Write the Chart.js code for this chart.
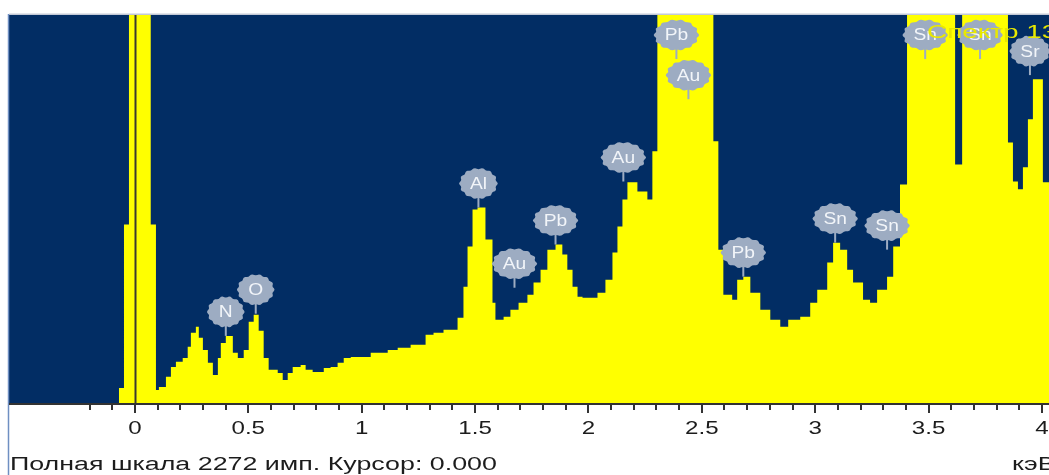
<!DOCTYPE html>
<html>
<head>
<meta charset="utf-8">
<script src="https://cdn.jsdelivr.net/npm/chart.js@4/dist/chart.umd.min.js"></script>
<style>
  html, body { margin: 0; padding: 0; background: #ffffff; overflow: hidden; }
  canvas { display: block; }
</style>
</head>
<body>
<canvas id="spectrum" width="1049" height="475"></canvas>
<script>
// EDS spectrum: channel start energy (keV) and counts held until the next channel
const energies = [-0.555, -0.070, -0.048, -0.026, 0.070, 0.093, 0.106, 0.137, 0.159, 0.181,
  0.211, 0.233, 0.247, 0.269, 0.282, 0.300, 0.322, 0.344, 0.366, 0.379,
  0.401, 0.432, 0.454, 0.480, 0.502, 0.524, 0.546, 0.568, 0.590, 0.630,
  0.652, 0.674, 0.696, 0.731, 0.753, 0.784, 0.833, 0.863, 0.894, 0.921,
  0.952, 1.040, 1.115, 1.159, 1.216, 1.282, 1.317, 1.361, 1.423, 1.449,
  1.467, 1.489, 1.511, 1.546, 1.577, 1.590, 1.626, 1.656, 1.692, 1.731,
  1.758, 1.789, 1.819, 1.855, 1.885, 1.907, 1.930, 1.952, 1.974, 2.040,
  2.075, 2.106, 2.128, 2.150, 2.172, 2.216, 2.260, 2.282, 2.304, 2.551,
  2.573, 2.595, 2.634, 2.656, 2.683, 2.714, 2.758, 2.802, 2.846, 2.881,
  2.934, 2.978, 3.009, 3.053, 3.079, 3.110, 3.141, 3.167, 3.211, 3.242,
  3.273, 3.317, 3.344, 3.374, 3.405, 3.617, 3.648, 3.850, 3.872, 3.894,
  3.916, 3.938, 3.960, 4.004, 4.031];
const counts = [0, 88, 1045, 2900, 1045, 76, 94, 153, 211, 241,
  264, 329, 411, 446, 382, 311, 235, 164, 264, 352,
  393, 294, 264, 311, 476, 517, 423, 264, 194, 176,
  135, 176, 211, 223, 194, 182, 205, 211, 235, 264,
  270, 294, 311, 323, 341, 399, 411, 429, 499, 681,
  916, 1133, 1145, 957, 587, 487, 505, 546, 587, 634,
  705, 781, 898, 928, 869, 781, 681, 622, 616, 646,
  722, 881, 1033, 1192, 1292, 1239, 1192, 1474, 2700, 1532,
  898, 634, 605, 722, 740, 646, 546, 487, 446, 487,
  505, 587, 663, 822, 939, 898, 781, 705, 605, 587,
  663, 740, 916, 1280, 2600, 1397, 2600, 1526, 1297, 1251,
  1380, 1661, 1896, 1292, 1292];

const fullScale = 2272;
const energyMin = -0.555;
const energyMax = 4.031;
const cursorEnergy = 0;

const majorTicks = [0, 0.5, 1, 1.5, 2, 2.5, 3, 3.5, 4];
const tickLabels = ['0', '0.5', '1', '1.5', '2', '2.5', '3', '3.5', '4'];
const minorTickStart = -0.2;
const minorTickStep = 0.1;

// element markers: name, line energy (keV), count level where the marker stem ends
const peakNames    = ['N', 'O', 'Al', 'Au', 'Pb', 'Au', 'Pb', 'Au', 'Pb', 'Sn', 'Sn', 'Sn', 'Sn', 'Sr'];
const peakEnergies = [0.401, 0.533, 1.515, 1.674, 1.855, 2.154, 2.388, 2.441, 2.683, 3.088, 3.317, 3.485, 3.727, 3.947];
const peakMarks    = [393, 523, 1145, 675, 928, 1297, 2014, 1779, 740, 939, 898, 2014, 2014, 1920];

const spectrumName = 'Спектр 13';
const footerText = 'Полная шкала 2272 имп. Курсор: 0.000';
const unitText = 'кэВ';

const NAVY = '#022d64';
const YELLOW = '#ffff00';
const INK = '#1c1c1c';
const BUBBLE = '#9dacc2';
const FONT = '"Liberation Sans", Arial, sans-serif';
const STRETCH = 1.34;
const WIDE = 1.49;

function stretchedText(ctx, text, x, y, align, size, color, sx) {
  ctx.save();
  ctx.font = size + 'px ' + FONT;
  ctx.fillStyle = color;
  ctx.textBaseline = 'middle';
  ctx.textAlign = align;
  ctx.translate(x, y);
  ctx.scale(sx, 1);
  ctx.fillText(text, 0, 0);
  ctx.restore();
}

function cloud(ctx, cx, cy, rx, ry) {
  ctx.beginPath();
  const n = 72;
  for (let i = 0; i <= n; i++) {
    const t = (i / n) * Math.PI * 2;
    const k = 1 + 0.045 * Math.cos(t * 14);
    const px = cx + Math.cos(t) * rx * k;
    const py = cy + Math.sin(t) * ry * k;
    if (i === 0) ctx.moveTo(px, py); else ctx.lineTo(px, py);
  }
  ctx.closePath();
  ctx.fill();
}

const edsDecor = {
  id: 'edsDecor',
  beforeDraw(chart) {
    const { ctx, chartArea: a } = chart;
    ctx.save();
    ctx.fillStyle = '#ffffff';
    ctx.fillRect(0, 0, chart.width, chart.height);
    ctx.fillStyle = NAVY;
    ctx.fillRect(a.left, a.top, a.right - a.left, a.bottom - a.top);
    ctx.restore();
  },
  afterDatasetsDraw(chart) {
    const { ctx, chartArea: a, scales: { x, y } } = chart;
    ctx.save();

    // cursor line
    const cx = Math.round(x.getPixelForValue(cursorEnergy)) + 0.5;
    ctx.strokeStyle = '#3a3a30';
    ctx.lineWidth = 2;
    ctx.beginPath();
    ctx.moveTo(cx, a.top);
    ctx.lineTo(cx, a.bottom);
    ctx.stroke();

    // frame lines
    ctx.strokeStyle = '#c3c9d6';
    ctx.lineWidth = 1.5;
    ctx.beginPath();
    ctx.moveTo(a.left, a.top - 0.75);
    ctx.lineTo(a.right, a.top - 0.75);
    ctx.stroke();
    ctx.strokeStyle = '#6f8fc2';
    ctx.beginPath();
    ctx.moveTo(a.left - 0.5, a.top - 1);
    ctx.lineTo(a.left - 0.5, chart.height);
    ctx.stroke();

    // energy axis
    ctx.strokeStyle = '#333333';
    ctx.lineWidth = 2;
    ctx.beginPath();
    ctx.moveTo(a.left, a.bottom + 1);
    ctx.lineTo(a.right, a.bottom + 1);
    ctx.stroke();

    ctx.lineWidth = 2;
    for (let v = minorTickStart; v <= energyMax + 1e-9; v += minorTickStep) {
      const val = Math.round(v * 10) / 10;
      const isMajor = majorTicks.some(m => Math.abs(m - val) < 1e-6);
      const px = Math.round(x.getPixelForValue(val));
      ctx.beginPath();
      ctx.moveTo(px, a.bottom + 2);
      ctx.lineTo(px, a.bottom + (isMajor ? 10 : 7));
      ctx.stroke();
    }
    majorTicks.forEach((m, i) => {
      stretchedText(ctx, tickLabels[i], x.getPixelForValue(m), a.bottom + 26, 'center', 18, INK, STRETCH);
    });

    // element markers
    peakNames.forEach((name, i) => {
      const px = x.getPixelForValue(peakEnergies[i]);
      const py = y.getPixelForValue(peakMarks[i]);
      const by = py - 24;
      ctx.font = '16px ' + FONT;
      const w = ctx.measureText(name).width * 1.2;
      const rx = Math.max(18, w / 2 + 10);
      const ry = 15;
      ctx.fillStyle = BUBBLE;
      ctx.strokeStyle = BUBBLE;
      ctx.lineWidth = 2;
      ctx.beginPath();
      ctx.moveTo(px, by + ry - 2);
      ctx.lineTo(px, py);
      ctx.stroke();
      cloud(ctx, px, by, rx, ry);
      stretchedText(ctx, name, px, by + 1, 'center', 16, '#f2f5f9', 1.2);
    });

    // spectrum name
    stretchedText(ctx, spectrumName, 927, a.top + 18, 'left', 18, '#e8e800', 1.55);

    // footer
    stretchedText(ctx, footerText, 10, 465, 'left', 18, INK, WIDE);
    stretchedText(ctx, unitText, 1012, 465, 'left', 18, INK, WIDE);

    ctx.restore();
  }
};

new Chart(document.getElementById('spectrum'), {
  type: 'line',
  data: {
    datasets: [{
      data: energies.map((e, i) => ({ x: e, y: counts[i] })),
      stepped: true,
      fill: 'origin',
      backgroundColor: YELLOW,
      borderColor: YELLOW,
      borderWidth: 0,
      pointRadius: 0,
      tension: 0,
      clip: 0
    }]
  },
  options: {
    responsive: false,
    devicePixelRatio: 1,
    animation: false,
    events: [],
    layout: { padding: { left: 9, top: 15, right: 0, bottom: 72 } },
    plugins: { legend: { display: false }, tooltip: { enabled: false } },
    scales: {
      x: { type: 'linear', min: energyMin, max: energyMax, display: false },
      y: { type: 'linear', min: 0, max: fullScale, display: false }
    }
  },
  plugins: [edsDecor]
});
</script>
</body>
</html>
